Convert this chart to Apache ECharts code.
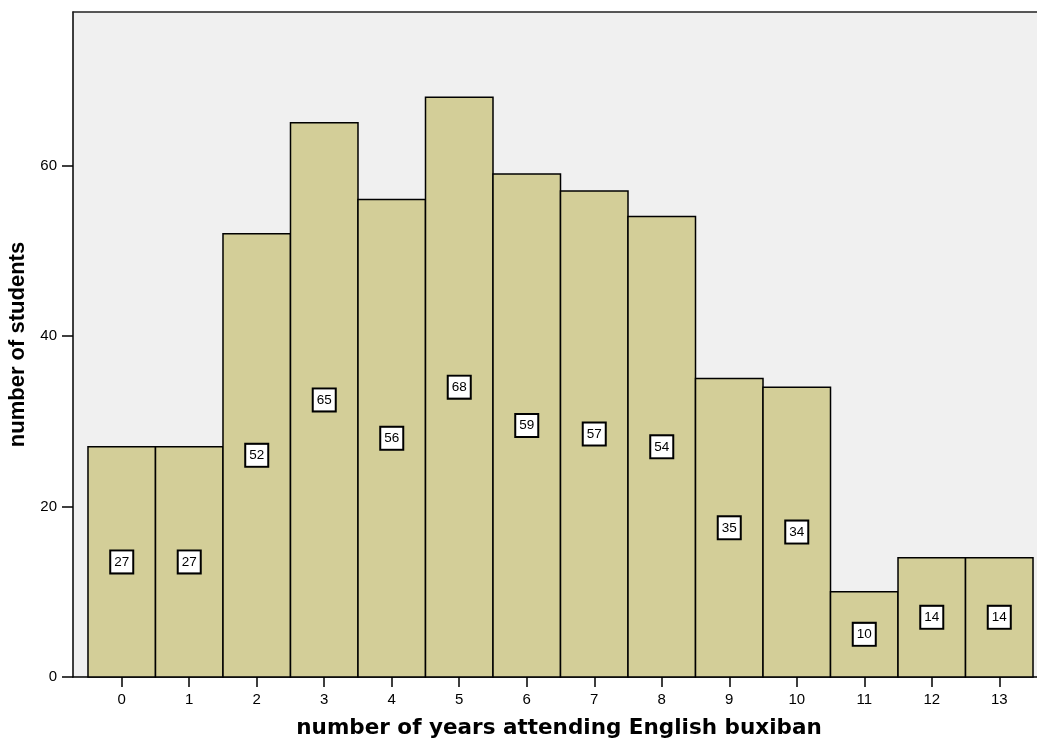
<!DOCTYPE html>
<html>
<head>
<meta charset="utf-8">
<script src="https://cdn.jsdelivr.net/npm/echarts@6/dist/echarts.min.js"></script>
<style>html,body{margin:0;padding:0;background:#fff;}#c{width:1037px;height:738px;}</style>
</head>
<body>
<div id="c"></div>
<script>
var years = [0, 1, 2, 3, 4, 5, 6, 7, 8, 9, 10, 11, 12, 13];
var tickLabels = ['0','1','2','3','4','5','6','7','8','9','10','11','12','13'];
var students = [27, 27, 52, 65, 56, 68, 59, 57, 54, 35, 34, 10, 14, 14];
var yTicks = [0, 20, 40, 60];

var data = years.map(function (y, i) { return [y, students[i]]; });
var FONT = '"Liberation Sans", Arial, sans-serif';

var chart = echarts.init(document.getElementById('c'), null, { renderer: 'canvas' });
chart.setOption({
  animation: false,
  backgroundColor: '#ffffff',
  grid: {
    left: 73, right: 0, top: 12, bottom: 61,
    outerBoundsMode: 'none',
    containLabel: false,
    show: true, backgroundColor: '#f0f0f0', borderWidth: 0
  },
  xAxis: [{
    type: 'value',
    min: -0.722, max: 13.559,
    name: 'number of years attending English buxiban',
    nameLocation: 'middle',
    nameGap: 40,
    nameTextStyle: { fontFamily: '"DejaVu Sans", sans-serif', fontWeight: 'bold', fontSize: 21.5, color: '#000', padding: [0, 0, 0, 8] },
    axisLine: { show: true, onZero: false, lineStyle: { color: '#000', width: 1.5 } },
    axisTick: { show: true, length: 10, customValues: years, lineStyle: { color: '#000', width: 1.5 } },
    axisLabel: {
      customValues: years, margin: 15,
      fontFamily: FONT, fontSize: 15, color: '#000',
      formatter: function (v) { return tickLabels[years.indexOf(Math.round(v))]; }
    },
    splitLine: { show: false }
  }, {
    type: 'value',
    position: 'top',
    min: 0, max: 1,
    axisLine: { show: true, onZero: false, lineStyle: { color: '#222', width: 1.5 } },
    axisTick: { show: false },
    axisLabel: { show: false },
    splitLine: { show: false }
  }],
  yAxis: {
    type: 'value',
    min: 0, max: 78,
    name: 'number of students',
    nameLocation: 'middle',
    nameRotate: 90,
    nameGap: 42,
    nameTextStyle: { fontFamily: FONT, fontWeight: 'bold', fontSize: 22, color: '#000' },
    axisLine: { show: true, onZero: false, lineStyle: { color: '#000', width: 1.5 } },
    axisTick: { show: true, length: 11, customValues: yTicks, lineStyle: { color: '#000', width: 1.5 } },
    axisLabel: { customValues: yTicks, margin: 16, fontFamily: FONT, fontSize: 15, color: '#000' },
    splitLine: { show: false }
  },
  series: [{
    type: 'custom',
    xAxisIndex: 0,
    data: data,
    encode: { x: 0, y: 1 },
    renderItem: function (params, api) {
      var x = api.value(0), v = api.value(1);
      var p0 = api.coord([x - 0.5, v]);
      var p1 = api.coord([x + 0.5, 0]);
      var mid = api.coord([x, v / 2]);
      return {
        type: 'group',
        children: [{
          type: 'rect',
          shape: { x: p0[0], y: p0[1], width: p1[0] - p0[0], height: p1[1] - p0[1] },
          style: { fill: '#d3ce98', stroke: '#000', lineWidth: 1.5 }
        }, {
          type: 'text',
          x: mid[0], y: mid[1],
          style: {
            text: String(v),
            fontFamily: FONT, fontSize: 13.5, fill: '#000',
            align: 'center', verticalAlign: 'middle',
            backgroundColor: '#fff', borderColor: '#000', borderWidth: 2,
            padding: [4, 3, 3, 3]
          }
        }]
      };
    }
  }]
});
</script>
</body>
</html>
